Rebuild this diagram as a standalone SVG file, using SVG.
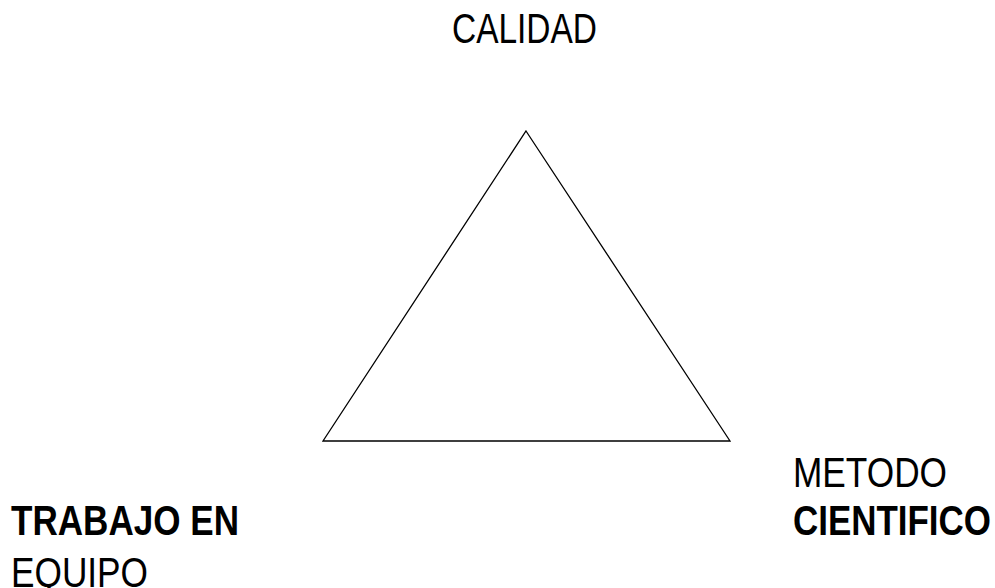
<svg xmlns="http://www.w3.org/2000/svg" width="995" height="588" viewBox="0 0 995 588">
<style>
text{font-family:"Liberation Sans Narrow","Liberation Sans",Arial,sans-serif;font-size:42px;fill:#000}
.b{font-weight:bold}
.edge{fill:none;stroke:#000;stroke-width:1.3}
</style>
<rect width="995" height="588" fill="#fff"/>
<g id="connectors">
<polygon class="edge" points="526,131 730,441 323,441"/>
</g>
<g id="calidad"><text x="452" y="43" textLength="145" lengthAdjust="spacingAndGlyphs">CALIDAD</text></g>
<g id="trabajo"><text class="b" x="11" y="535" textLength="228" lengthAdjust="spacingAndGlyphs">TRABAJO EN</text><text x="11" y="587" textLength="137" lengthAdjust="spacingAndGlyphs">EQUIPO</text></g>
<g id="metodo"><text x="793" y="487" textLength="154" lengthAdjust="spacingAndGlyphs">METODO</text><text class="b" x="793" y="535" textLength="198" lengthAdjust="spacingAndGlyphs">CIENTIFICO</text></g>
</svg>
